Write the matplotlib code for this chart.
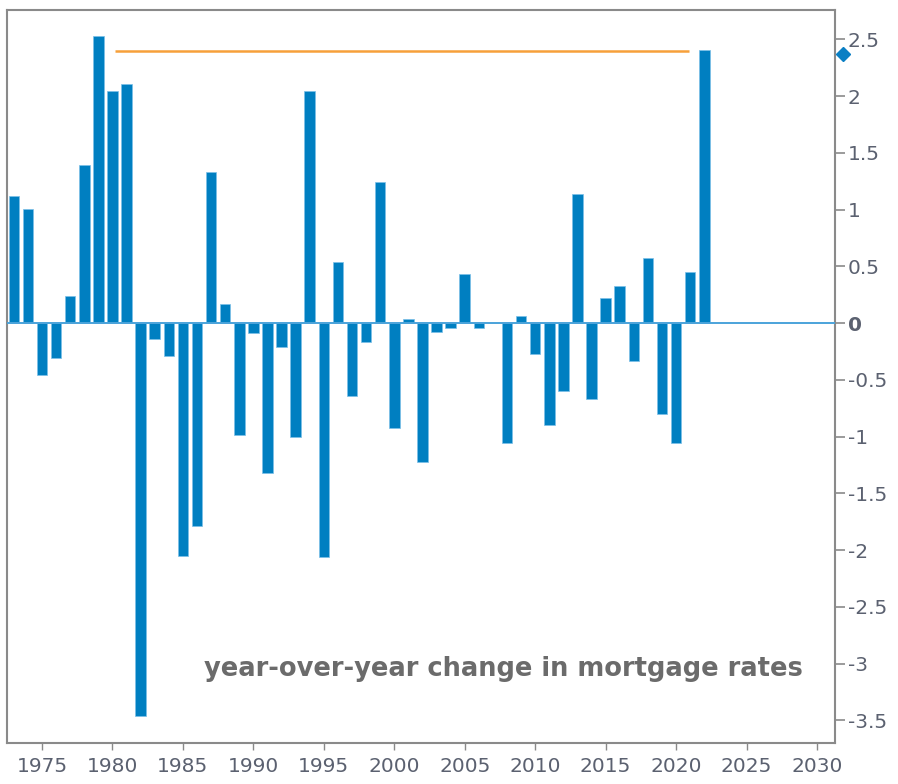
import matplotlib
matplotlib.use("Agg")
import matplotlib.pyplot as plt
from matplotlib.ticker import FixedLocator, FixedFormatter

# year-over-year change in mortgage rates (percentage points)
years = list(range(1973, 2023))
changes = [
    1.12, 1.01, -0.46, -0.31, 0.24, 1.39, 2.53, 2.05, 2.11, -3.46,   # 1973-1982
    -0.14, -0.29, -2.05, -1.79, 1.33, 0.17, -0.99, -0.09, -1.32, -0.21,  # 1983-1992
    -1.00, 2.05, -2.06, 0.54, -0.64, -0.17, 1.24, -0.92, 0.04, -1.22,  # 1993-2002
    -0.08, -0.04, 0.43, -0.04, 0.0, -1.06, 0.06, -0.27, -0.90, -0.60,  # 2003-2012
    1.14, -0.67, 0.22, 0.33, -0.33, 0.57, -0.80, -1.06, 0.45, 2.41,    # 2013-2022
]

# orange reference line at the latest change
ref_level = 2.40
ref_start, ref_end = 1980.2, 2020.9

# last-value marker on the axis
marker_year = 2031.87
marker_value = 2.37

xtick_values = [1975, 1980, 1985, 1990, 1995, 2000, 2005, 2010, 2015, 2020, 2025, 2030]
xtick_labels = [str(v) for v in xtick_values]
ytick_values = [2.5, 2, 1.5, 1, 0.5, 0, -0.5, -1, -1.5, -2, -2.5, -3, -3.5]
ytick_labels = ["2.5", "2", "1.5", "1", "0.5", "0", "-0.5", "-1", "-1.5",
                "-2", "-2.5", "-3", "-3.5"]

title_text = "year-over-year change in mortgage rates"

BAR_BLUE = "#007fc1"
TICK_GRAY = "#5b6170"
SPINE_GRAY = "#8a8a8a"

fig = plt.figure(figsize=(8.98, 7.84), dpi=100)
ax = fig.add_axes([0.00835, 0.0523, 0.9215, 0.935])

ax.bar(years, changes, width=0.75, color=BAR_BLUE, edgecolor="#7cc0e8",
       linewidth=0.5, zorder=2)
ax.axhline(0, color="#4ba3da", linewidth=1.4, zorder=3)
ax.plot([ref_start, ref_end], [ref_level, ref_level], color="#f7a03a",
        linewidth=1.8, solid_capstyle="butt", zorder=3)
ax.plot([marker_year], [marker_value], marker="D", markersize=7,
        color="#0a7fc4", clip_on=False, zorder=5)

ax.set_xlim(1972.55, 2031.28)
ax.set_ylim(-3.70, 2.76)

ax.yaxis.tick_right()
ax.yaxis.set_major_locator(FixedLocator(ytick_values))
ax.yaxis.set_major_formatter(FixedFormatter(ytick_labels))
ax.xaxis.set_major_locator(FixedLocator(xtick_values))
ax.xaxis.set_major_formatter(FixedFormatter(xtick_labels))

ax.tick_params(axis="y", direction="out", length=7, width=1.2, color=SPINE_GRAY,
               labelsize=14.5, labelcolor=TICK_GRAY, pad=2)
ax.tick_params(axis="x", direction="out", length=5, width=1.0, color=SPINE_GRAY,
               labelsize=14.5, labelcolor=TICK_GRAY, pad=5)
for lbl in ax.get_yticklabels():
    if lbl.get_text() == "0":
        lbl.set_fontweight("bold")

for side in ["left", "right", "top", "bottom"]:
    ax.spines[side].set_color(SPINE_GRAY)
    ax.spines[side].set_linewidth(1.5)

ax.text(0.9613, 0.0914, title_text, transform=ax.transAxes, ha="right",
        va="baseline", fontsize=18.5, fontweight="bold", color="#6b6b6b")

fig.savefig("out.png", dpi=100)
